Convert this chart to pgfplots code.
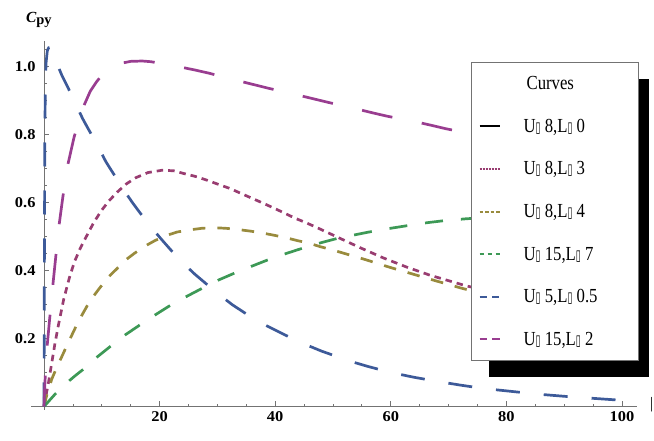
\documentclass[border=0pt]{standalone}
\usepackage{pgfplots}
\pgfplotsset{compat=1.18}
\usepackage{fontspec}
\setmainfont{Liberation Serif}
\newfontfamily\legfont{Liberation Serif}[FakeStretch=0.84]
\newfontfamily\tickfont{Liberation Serif}[FakeStretch=1.1]
\newfontfamily\symfont{DejaVu Sans}
\newcommand\bx{\scalebox{0.6}[1]{\symfont\fontsize{15}{15}\selectfont\char"25AF}}
\definecolor{cB}{rgb}{0.6,0.24,0.443}
\definecolor{cC}{rgb}{0.6,0.547,0.24}
\definecolor{cD}{rgb}{0.24,0.6,0.337}
\definecolor{cE}{rgb}{0.24,0.353,0.6}
\definecolor{cF}{rgb}{0.6,0.24,0.563}
\begin{document}
\begin{tikzpicture}
\useasboundingbox (0,0) rectangle (654bp,441bp);
\begin{axis}[
  at={(31.3bp,31.1bp)}, anchor=south west,
  scale only axis, width=605.7bp, height=368.6bp,
  xmin=-2.2, xmax=102.6, ymin=-0.01, ymax=1.074,
  clip=false,
  axis lines=middle,
  axis line style={draw=black!55, line width=0.9bp, -},
  xtick={20,40,60,80,100},
  ytick={0.2,0.4,0.6,0.8,1.0},
  minor xtick={5,10,15,25,30,35,45,50,55,65,70,75,85,90,95},
  minor ytick={0.05,0.1,0.15,0.25,0.3,0.35,0.45,0.5,0.55,0.65,0.7,0.75,0.85,0.9,0.95,1.05},
  tick style={draw=black!55, line width=0.8bp},
  major tick length=5bp, minor tick length=2.7bp,
  tick align=inside,
  /pgf/number format/assume math mode=true,
  tick label style={font=\tickfont\bfseries\fontsize{15}{18}\selectfont},
  yticklabel style={/pgf/number format/.cd, fixed, fixed zerofill, precision=1, /tikz/.cd, xshift=-5bp},
  xticklabel style={yshift=-2bp},
  ylabel={{\bfseries\itshape\fontsize{15.5}{18}\selectfont C}\raisebox{-2bp}{\bfseries\fontsize{14.5}{17}\selectfont py}},
  ylabel style={at={(axis description cs:-0.0088,1.052)}, anchor=base west, rotate=0, inner sep=0pt},
  xlabel={\fontsize{16}{18}\selectfont |},
  xlabel style={at={(axis description cs:1.0215,0.0133)}, anchor=west, inner sep=0pt},
  legend style={at={(0.7259,0.9439)}, anchor=north west,
    draw=black!55, line width=1.2bp, fill=white,
    inner xsep=7bp, inner ysep=0bp, row sep=0pt, column sep=23bp,
    nodes={inner sep=0pt, minimum height=42.6bp, text depth=0.15em},
    font=\legfont\fontsize{20}{24}\selectfont},
  legend cell align=left,
]
% U=8, L=3
\addplot[cB, line width=2.7bp, dash pattern=on 6.5bp off 5bp, forget plot] coordinates {
(0,0)(0.2,0.02)(0.75,0.068)(1.33,0.127)(1.9,0.186)(2.5,0.24)(3.4,0.315)(4.38,0.378)(5.25,0.425)(6.29,0.466)(7.39,0.502)(8.54,0.539)(9.92,0.576)(11.25,0.605)(12.7,0.631)(14.2,0.654)(15.9,0.673)(18,0.688)(20.5,0.695)(22.5,0.693)(24,0.686)(26.1,0.677)(28.3,0.665)(30.2,0.653)(32.2,0.641)(33.9,0.628)(35.9,0.613)(37.9,0.598)(39.7,0.584)(41.7,0.568)(43.4,0.554)(45.4,0.540)(47.5,0.524)(50.9,0.497)(54.7,0.467)(58.7,0.437)(62.75,0.41)(66.8,0.386)(70.8,0.366)(73,0.355)(76,0.343)(80,0.328)(90,0.295)(101,0.263)};
% U=8, L=4
\addplot[cC, line width=2.7bp, dash pattern=on 12.5bp off 12bp, forget plot] coordinates {
(0,0)(0.5,0.035)(1.33,0.08)(2.2,0.115)(3.17,0.15)(4.0,0.181)(4.9,0.213)(5.8,0.245)(6.8,0.276)(7.6,0.3)(8.5,0.323)(9.7,0.35)(11.1,0.38)(12.6,0.405)(13.9,0.428)(15.6,0.45)(17.3,0.47)(19.2,0.488)(21.2,0.503)(23,0.513)(25,0.519)(27.3,0.524)(29.2,0.526)(31.5,0.524)(33.3,0.521)(35.6,0.516)(37.5,0.511)(39.7,0.504)(41.7,0.497)(43.8,0.488)(45.9,0.48)(47.8,0.47)(49.8,0.461)(51.8,0.451)(53.8,0.441)(55.8,0.431)(57.8,0.42)(59.9,0.409)(61.9,0.399)(63.9,0.389)(65.9,0.379)(67.9,0.369)(70,0.359)(72,0.349)(75,0.336)(80,0.316)(90,0.28)(101,0.245)};
% U=15, L=7
\addplot[cD, line width=2.7bp, dash pattern=on 18bp off 18bp, forget plot] coordinates {
(0,0)(1.9,0.036)(3.2,0.057)(4.38,0.076)(5.5,0.092)(6.7,0.108)(9.0,0.143)(11.5,0.177)(14,0.21)(16.6,0.24)(19.2,0.269)(22,0.299)(24.6,0.323)(27.4,0.348)(30.2,0.372)(33.2,0.394)(36,0.413)(39,0.433)(41.9,0.45)(45,0.467)(48,0.482)(50.9,0.495)(54.1,0.506)(57.1,0.516)(60.3,0.525)(63.3,0.533)(66.5,0.541)(69.5,0.547)(73,0.552)(80,0.559)(90,0.563)(101,0.561)};
% U=5, L=0.5
\addplot[cE, line width=2.7bp, dash pattern=on 24bp off 24bp, forget plot] coordinates {
(0,0)(0.03,0.2)(0.06,0.4)(0.1,0.6)(0.15,0.8)(0.22,0.93)(0.35,1.01)(0.57,1.046)(0.8,1.055)(1.0,1.056)(1.3,1.05)(1.6,1.04)(2.2,1.01)(3.06,0.975)(4.0,0.943)(4.9,0.911)(5.8,0.878)(6.7,0.846)(7.7,0.815)(8.65,0.787)(9.7,0.753)(10.7,0.72)(11.7,0.693)(12.8,0.664)(14,0.632)(15.2,0.602)(16.5,0.572)(17.8,0.544)(19.1,0.516)(20.4,0.49)(21.8,0.463)(23.2,0.437)(24.6,0.413)(26.1,0.389)(27.7,0.366)(29.3,0.343)(31,0.32)(32.6,0.299)(34.4,0.279)(36.2,0.259)(38,0.242)(40,0.225)(42,0.208)(44,0.192)(46,0.177)(48,0.163)(50,0.151)(52,0.139)(54,0.128)(56,0.118)(58,0.109)(60,0.1)(64,0.086)(68,0.074)(72,0.063)(76,0.053)(80,0.046)(85,0.037)(90,0.03)(95,0.024)(101,0.017)};
% U=15, L=2
\addplot[cF, line width=2.7bp, dash pattern=on 31bp off 30bp, forget plot] coordinates {
(0,0)(0.1,0.05)(0.25,0.1)(0.5,0.17)(1,0.262)(1.5,0.352)(2,0.435)(2.5,0.52)(3.25,0.615)(4.0,0.702)(5.2,0.792)(6.7,0.877)(8,0.927)(9.1,0.955)(10.5,0.985)(12,1.003)(13.2,1.009)(15,1.015)(17,1.016)(18.5,1.014)(20.5,1.008)(23.4,0.999)(26,0.99)(28.6,0.98)(31,0.969)(33.6,0.958)(36.2,0.947)(38.8,0.936)(41.4,0.926)(43.9,0.916)(47.8,0.9)(51,0.887)(54.1,0.875)(57,0.863)(59.3,0.854)(62,0.845)(64.4,0.837)(67,0.827)(69.5,0.817)(73,0.805)(77,0.791)(82,0.775)(90,0.75)(101,0.72)};
% legend shadow
\fill[black] (axis description cs:0.7557,0.0893) rectangle (axis description cs:1.0198,0.8977);
\addlegendimage{empty legend}
\addlegendentry{\makebox[108bp][l]{\hspace{3bp}Curves}}
\addlegendimage{legend image code/.code={\draw[black, line width=2bp] (0bp,0bp) -- (20bp,0bp);}}
\addlegendentry{\makebox[108bp][l]{U\bx\ 8,L\bx\ 0}}
\addlegendimage{legend image code/.code={\draw[cB, line width=2bp, dash pattern=on 2bp off 1bp] (0bp,0bp) -- (20bp,0bp);}}
\addlegendentry{\makebox[108bp][l]{U\bx\ 8,L\bx\ 3}}
\addlegendimage{legend image code/.code={\draw[cC, line width=2bp, dash pattern=on 3.5bp off 2bp] (0bp,0bp) -- (20bp,0bp);}}
\addlegendentry{\makebox[108bp][l]{U\bx\ 8,L\bx\ 4}}
\addlegendimage{legend image code/.code={\draw[cD, line width=2bp, dash pattern=on 4.5bp off 3.5bp] (0bp,0bp) -- (20bp,0bp);}}
\addlegendentry{\makebox[108bp][l]{U\bx\ 15,L\bx\ 7}}
\addlegendimage{legend image code/.code={\draw[cE, line width=2bp, dash pattern=on 7bp off 5.5bp] (0bp,0bp) -- (20bp,0bp);}}
\addlegendentry{\makebox[108bp][l]{U\bx\ 5,L\bx\ 0.5}}
\addlegendimage{legend image code/.code={\draw[cF, line width=2bp, dash pattern=on 7.5bp off 5bp] (0bp,0bp) -- (20bp,0bp);}}
\addlegendentry{\makebox[108bp][l]{U\bx\ 15,L\bx\ 2}}
\end{axis}
\end{tikzpicture}
\end{document}
